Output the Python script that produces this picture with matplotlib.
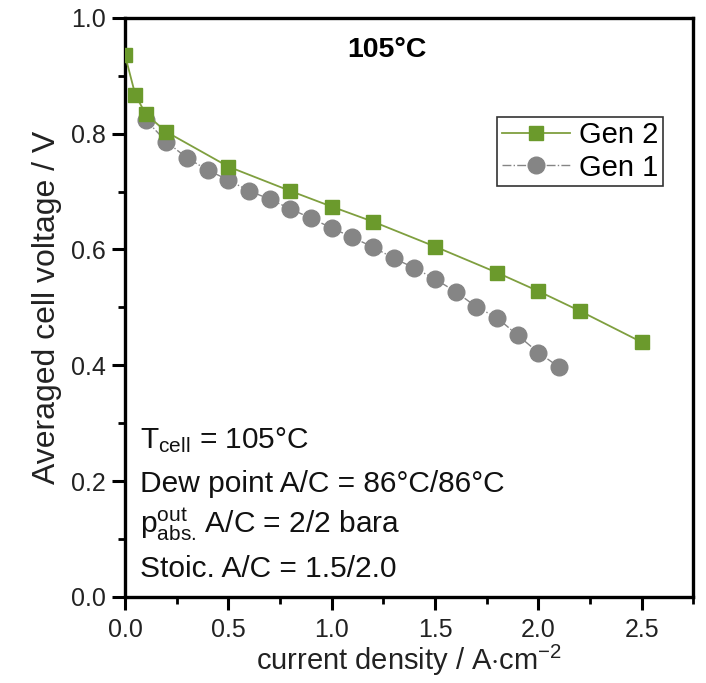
import matplotlib
matplotlib.use("Agg")
import matplotlib.pyplot as plt
from matplotlib.ticker import MultipleLocator

plt.rcParams['font.family'] = ['Liberation Sans', 'DejaVu Sans']
plt.rcParams['mathtext.fontset'] = 'custom'
plt.rcParams['mathtext.rm'] = 'Liberation Sans'
plt.rcParams['mathtext.it'] = 'Liberation Sans:italic'
plt.rcParams['mathtext.bf'] = 'Liberation Sans:bold'

# Data
gen2_x = [0.0, 0.05, 0.1, 0.2, 0.5, 0.8, 1.0, 1.2, 1.5, 1.8, 2.0, 2.2, 2.5]
gen2_y = [0.936, 0.867, 0.834, 0.803, 0.743, 0.701, 0.674, 0.648, 0.605, 0.560, 0.528, 0.494, 0.440]

gen1_x = [0.1, 0.2, 0.3, 0.4, 0.5, 0.6, 0.7, 0.8, 0.9, 1.0, 1.1, 1.2, 1.3, 1.4,
          1.5, 1.6, 1.7, 1.8, 1.9, 2.0, 2.1]
gen1_y = [0.824, 0.786, 0.758, 0.737, 0.720, 0.701, 0.687, 0.670, 0.654, 0.637, 0.621,
          0.604, 0.585, 0.568, 0.549, 0.527, 0.501, 0.482, 0.452, 0.422, 0.397]

x_ticks = [0.0, 0.5, 1.0, 1.5, 2.0, 2.5]
y_ticks = [0.0, 0.2, 0.4, 0.6, 0.8, 1.0]

green = '#6b9a2c'
green_line = '#7f9f3f'
grey = '#858585'

fig = plt.figure(figsize=(7.06, 6.83), dpi=100)
ax = fig.add_axes([0.177, 0.126, 0.805, 0.848])

ax.plot(gen1_x, gen1_y, linestyle='-.', color=grey, lw=1.0, marker='o',
        markersize=12, markerfacecolor=grey, markeredgecolor=grey, label='Gen 1', zorder=2)
ax.plot(gen2_x, gen2_y, linestyle='-', color=green_line, lw=1.3, marker='s',
        markersize=10.5, markerfacecolor=green, markeredgecolor=green, label='Gen 2', zorder=3)

ax.set_xlim(0, 2.75)
ax.set_ylim(0, 1.0)
ax.set_xticks(x_ticks)
ax.set_yticks(y_ticks)
ax.set_xticklabels([f"{v:.1f}" for v in x_ticks])
ax.set_yticklabels([f"{v:.1f}" for v in y_ticks])
ax.xaxis.set_minor_locator(MultipleLocator(0.25))
ax.yaxis.set_minor_locator(MultipleLocator(0.1))

for s in ax.spines.values():
    s.set_linewidth(2.4)
ax.tick_params(which='major', direction='out', length=9.5, width=2.2, labelsize=18,
               labelcolor='#222222', pad=4)
ax.tick_params(which='minor', direction='out', length=5, width=2.0)
ax.tick_params(axis='x', which='major', pad=6)

ax.set_xlabel(r"current density / A$\cdot$cm$^{-2}$", fontsize=21, color='#222222', labelpad=0)
ax.set_ylabel("Averaged cell voltage / V", fontsize=23, color='#222222', labelpad=7)

ax.text(1.27, 0.945, "105°C", fontsize=20.5, fontweight='bold', ha='center', va='center')

handles, labels = ax.get_legend_handles_labels()
leg = ax.legend(handles[::-1], labels[::-1], loc='upper left', bbox_to_anchor=(0.655, 0.829),
                borderaxespad=0, fontsize=21, frameon=True, fancybox=False,
                handlelength=2.35, handletextpad=0.3, borderpad=0.15, labelspacing=0.15)
leg.get_frame().set_edgecolor('black')
leg.get_frame().set_linewidth(1.2)

lines = [r"T$_{\rm cell}$ = 105°C",
         "Dew point A/C = 86°C/86°C",
         r"p$_{\rm abs.}^{\rm out}\,$A/C = 2/2 bara",
         "Stoic. A/C = 1.5/2.0"]
ys = [0.257, 0.181, 0.110, 0.035]
for t, yv in zip(lines, ys):
    ax.text(0.072, yv, t, fontsize=21.5, ha='left', va='baseline', color='#111111')

fig.savefig("out.png", dpi=100)
